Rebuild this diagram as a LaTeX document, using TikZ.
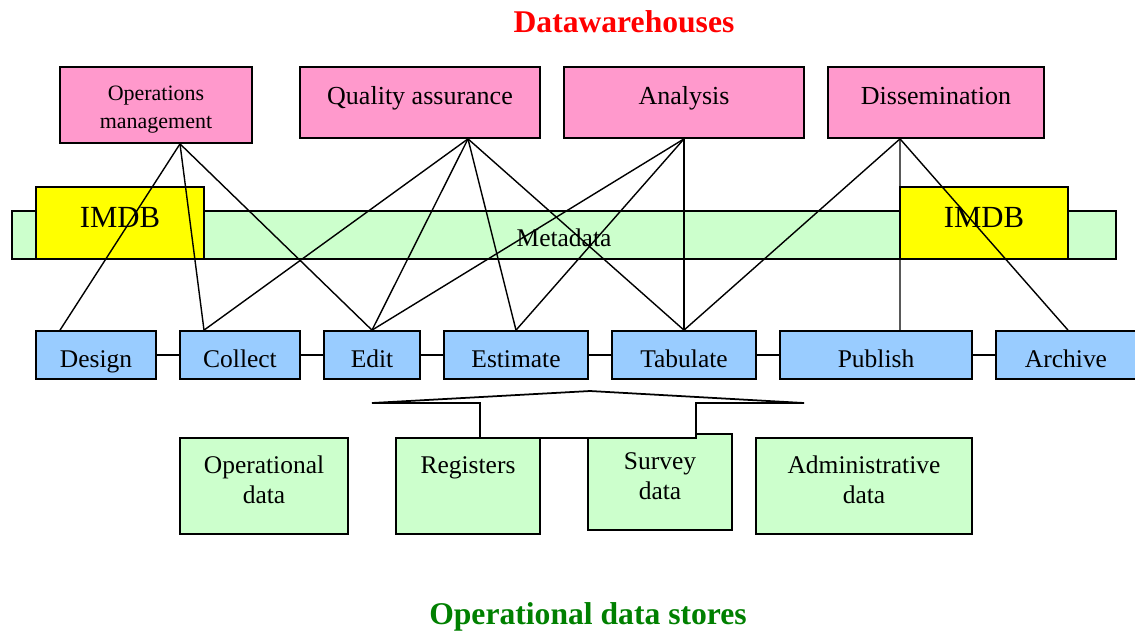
\documentclass[tikz,border=0pt]{standalone}
\usepackage{fontspec}
\setmainfont{Liberation Serif}
\definecolor{dwPink}{HTML}{FF99CC}
\definecolor{metaGreen}{HTML}{CCFFCC}
\definecolor{imdbYellow}{HTML}{FFFF00}
\definecolor{stepBlue}{HTML}{99CCFF}
\definecolor{titleRed}{HTML}{FF0000}
\definecolor{titleGreen}{HTML}{008000}
\tikzset{
  every node/.style={font=\fontsize{14.5}{17}\selectfont},
  topbox/.style={draw, line width=1pt, fill=dwPink, minimum height=1.42cm, text depth=0.28cm,
    font=\fontsize{14.8}{17}\selectfont},
  stepbox/.style={draw, line width=1pt, fill=stepBlue, minimum height=0.96cm, inner sep=1pt,
    text height=0.5cm, text depth=0.02cm},
  storebox/.style={draw, line width=1pt, fill=metaGreen, minimum height=1.92cm, align=center},
  imdbbox/.style={draw, line width=1pt, fill=imdbYellow, minimum width=3.36cm, minimum height=1.44cm,
    font=\fontsize{17.5}{20}\selectfont, text depth=0.24cm},
  link/.style={line width=0.8pt}
}
\begin{document}
\begin{tikzpicture}[x=0.02cm,y=-0.02cm]
  \useasboundingbox (0,0) rectangle (1135,630);
  % titles
  \node[text=titleRed, font=\fontsize{18}{20}\selectfont\bfseries] (dw) at (624,22) {Datawarehouses};
  \node[text=titleGreen, font=\fontsize{18}{20}\selectfont\bfseries] (ods) at (588,617) {Operational data stores};
  % metadata band with the two IMDB boxes
  \node[draw, line width=1pt, fill=metaGreen, minimum width=22.08cm, minimum height=0.96cm,
    text height=0.47cm] (meta) at (564,235) {Metadata};
  \node[imdbbox] (imdbL) at (120,223) {IMDB};
  \node[imdbbox] (imdbR) at (984,223) {IMDB};
  % datawarehouse functions
  \node[draw, line width=1pt, fill=dwPink, minimum width=3.84cm, minimum height=1.52cm, align=center,
    font=\fontsize{12.5}{16}\selectfont, text height=1.03cm] (ops) at (156,105) {Operations\\management};
  \node[topbox, minimum width=4.8cm] (qa) at (420,102.5) {Quality assurance};
  \node[topbox, minimum width=4.8cm] (ana) at (684,102.5) {Analysis};
  \node[topbox, minimum width=4.32cm] (diss) at (936,102.5) {Dissemination};
  % process steps
  \node[stepbox, minimum width=2.4cm] (design) at (96,355) {Design};
  \node[stepbox, minimum width=2.4cm] (collect) at (240,355) {Collect};
  \node[stepbox, minimum width=1.92cm] (edit) at (372,355) {Edit};
  \node[stepbox, minimum width=2.88cm] (estimate) at (516,355) {Estimate};
  \node[stepbox, minimum width=2.88cm] (tabulate) at (684,355) {Tabulate};
  \node[stepbox, minimum width=3.84cm] (publish) at (876,355) {Publish};
  \node[stepbox, minimum width=2.8cm] (archive) at (1066,355) {Archive};
  \foreach \a/\b in {design/collect, collect/edit, edit/estimate, estimate/tabulate, tabulate/publish, publish/archive}
    \draw[link] (\a) -- (\b);
  % operational data stores
  \node[storebox, minimum width=3.36cm] (opdata) at (264,486) {Operational\\data\\[-10pt]~};
  \node[storebox, minimum width=2.88cm] (registers) at (468,486) {Registers\\~\\[-10pt]~};
  \node[storebox, minimum width=2.88cm] (survey) at (660,482) {Survey\\data\\[-10pt]~};
  \node[storebox, minimum width=4.32cm] (admin) at (864,486) {Administrative\\data\\[-10pt]~};
  % broad arrow up to the steps
  \draw[line width=1pt, fill=white] (372,403) -- (590,391) -- (804,403) -- (696,403) -- (696,438)
    -- (480,438) -- (480,403) -- cycle;
  % links from functions to steps
  \coordinate (opsP) at ([xshift=0.48cm]ops.south);
  \coordinate (qaP) at ([xshift=0.96cm]qa.south);
  \coordinate (anaP) at (ana.south);
  \coordinate (dissP) at ([xshift=-0.72cm]diss.south);
  \coordinate (designP) at ([xshift=-0.72cm]design.north);
  \coordinate (collectP) at ([xshift=-0.72cm]collect.north);
  \coordinate (editP) at (edit.north);
  \coordinate (estimateP) at (estimate.north);
  \coordinate (tabulateP) at (tabulate.north);
  \coordinate (publishP) at ([xshift=0.48cm]publish.north);
  \coordinate (archiveP) at ([xshift=0.04cm]archive.north);
  \foreach \a/\b in {opsP/designP, opsP/collectP, opsP/editP,
      qaP/collectP, qaP/editP, qaP/estimateP, qaP/tabulateP,
      anaP/editP, anaP/estimateP, anaP/tabulateP,
      dissP/tabulateP, dissP/publishP, dissP/archiveP}
    \draw[link] (\a) -- (\b);
\end{tikzpicture}
\end{document}
